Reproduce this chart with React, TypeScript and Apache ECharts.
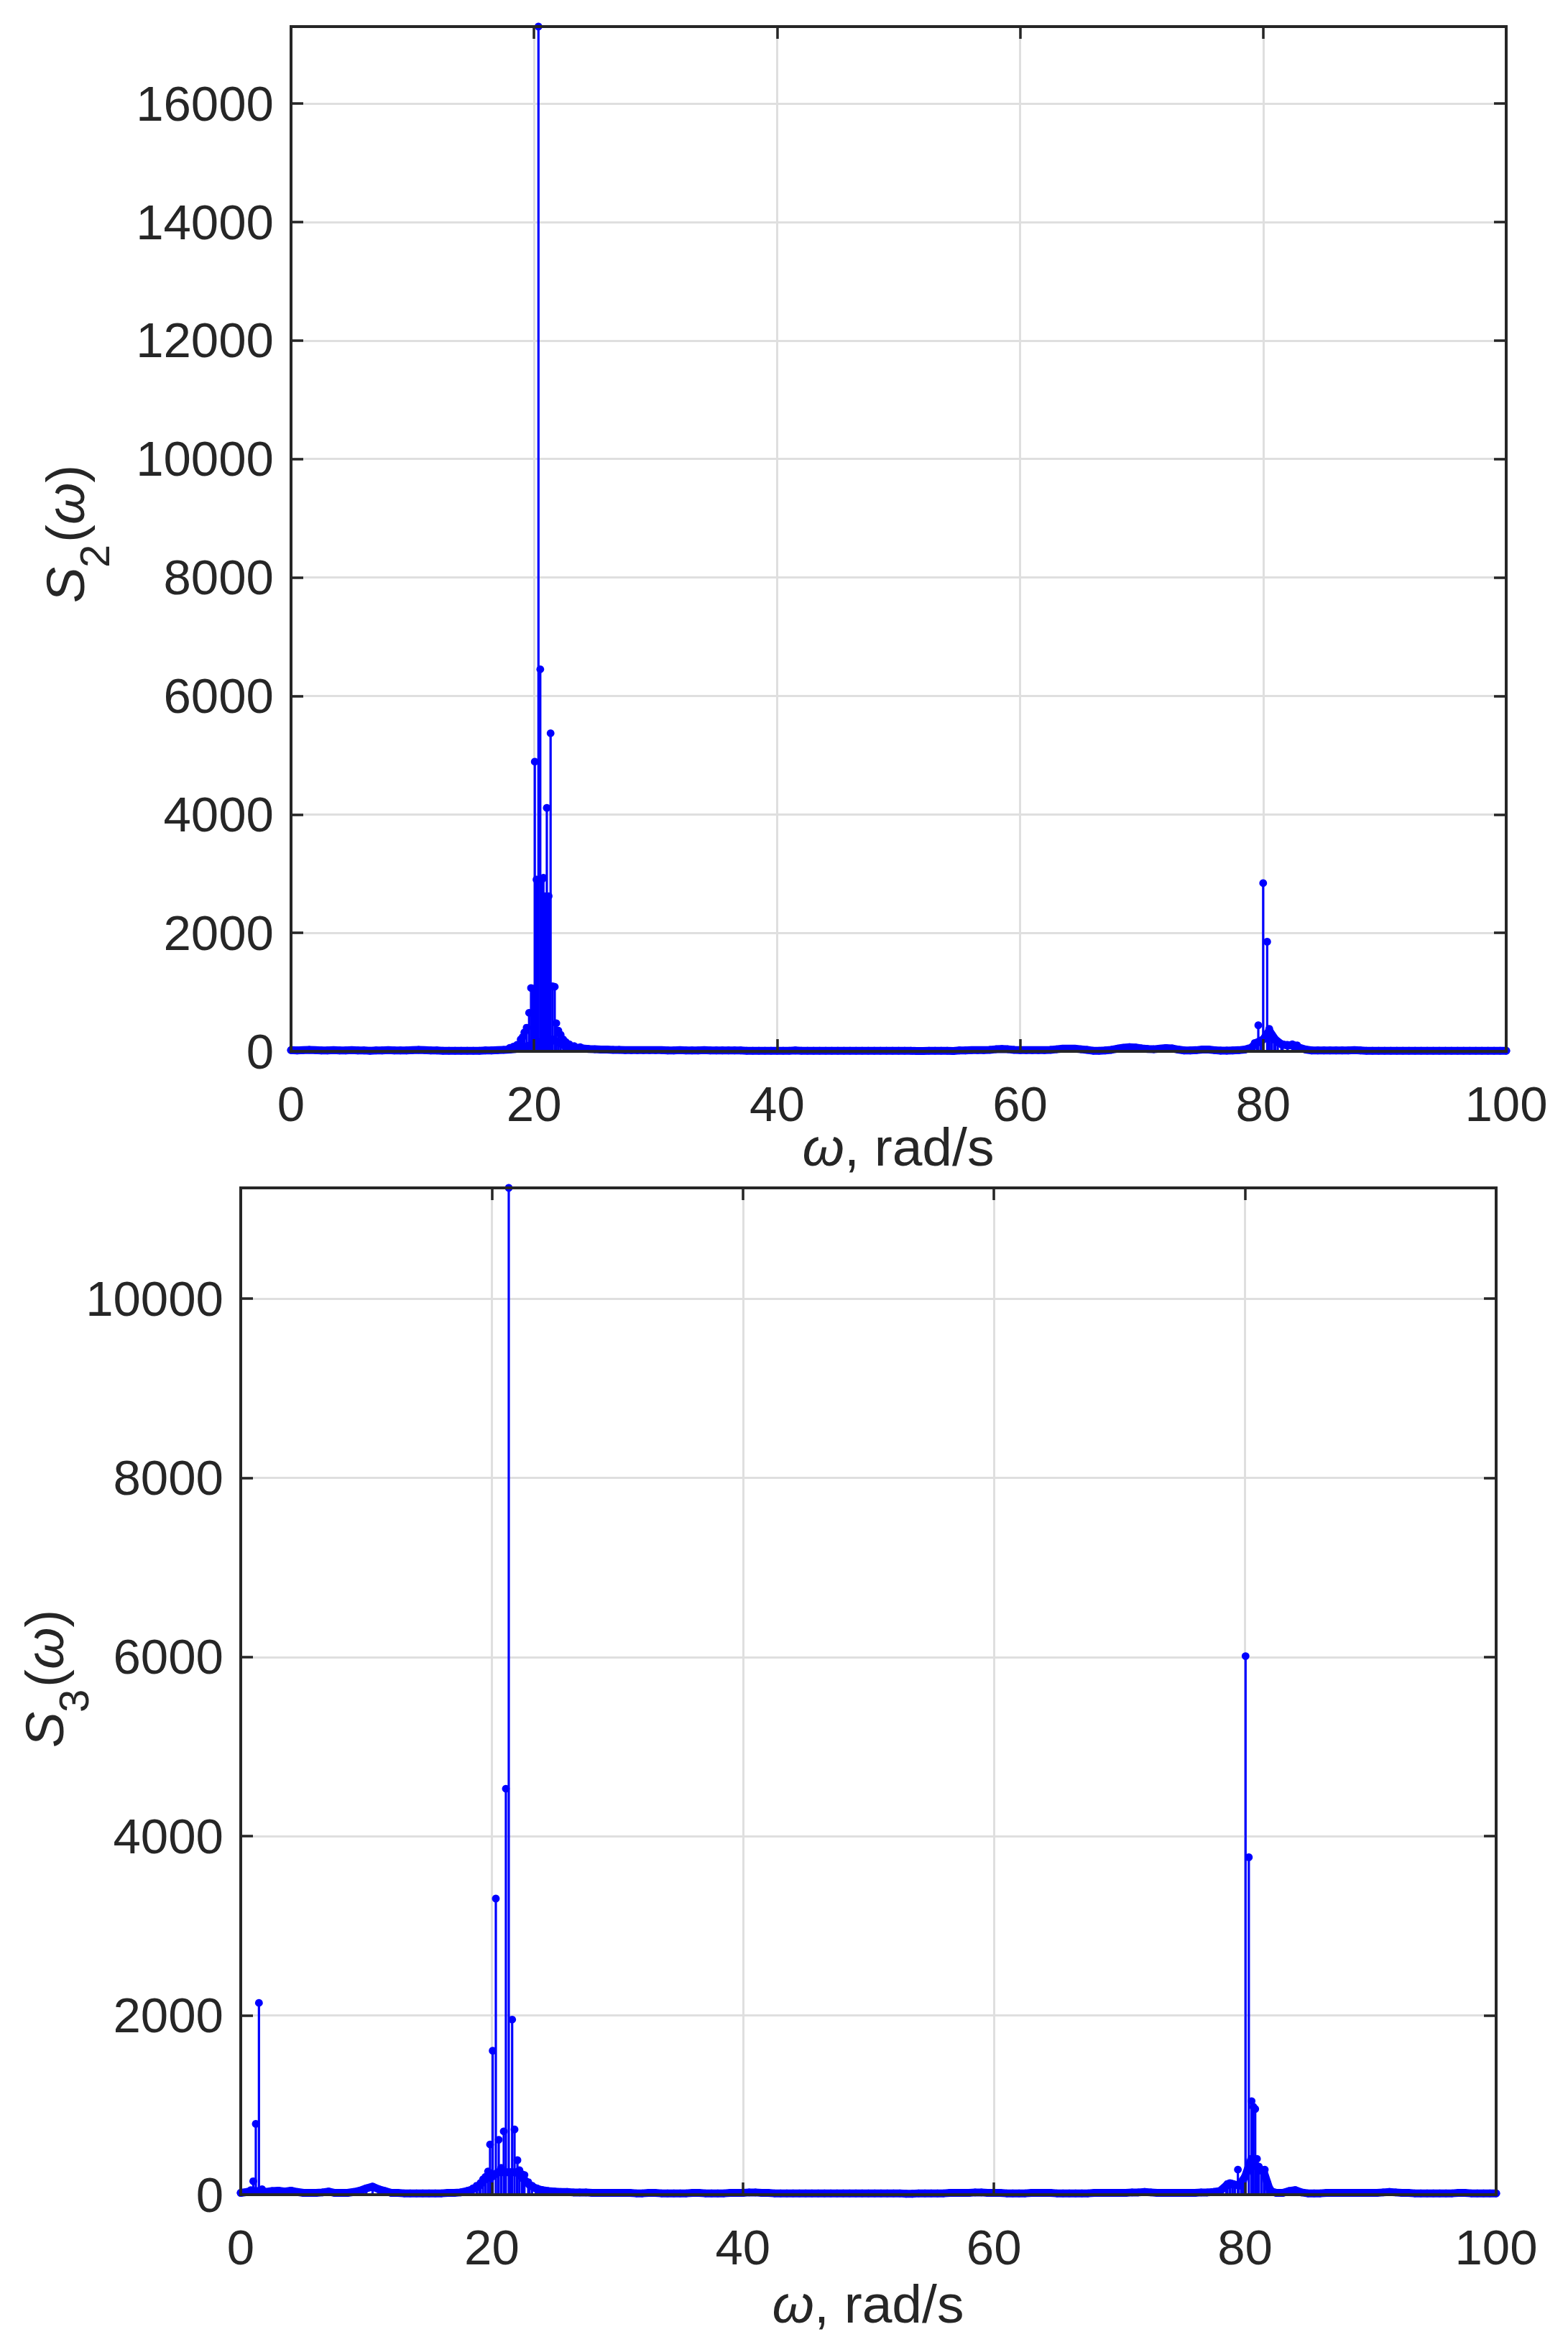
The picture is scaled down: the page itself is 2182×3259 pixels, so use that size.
import React, { useEffect, useRef } from "react";
import * as echarts from "echarts";

const W = 2182;
const H = 3259;
const FONT = '"Liberation Sans", Arial, Helvetica, sans-serif';
const INK = "#262626";
const BLUE = "#0000ff";
const GRIDC = "#dfdfdf";

// x axis (omega, rad/s)
const xMin = 0;
const xMax = 100;
const xInterval = 20;
const yInterval = 2000;
const floorStep = 0.5; // sample spacing of the low-level floor values below

// ---- S2(omega): low-level floor, omega = 0, 0.5, ..., 100
const s2Floor = [
  20, 15, 20, 25, 20, 15, 15, 20, 15, 15, 20, 15, 15, 10, 15, 15, 20, 15, 15, 15,
  20, 25, 20, 15, 15, 10, 10, 10, 10, 10, 10, 10, 15, 15, 20, 25, 30, 40, 60, 90,
  120, 150, 180, 200, 150, 100, 80, 60, 50, 40, 35, 30, 30, 25, 25, 20, 20, 20, 20, 20,
  20, 20, 15, 15, 20, 15, 15, 15, 20, 15, 15, 15, 15, 15, 15, 10, 10, 10, 10, 10,
  10, 10, 10, 15, 10, 10, 10, 10, 10, 10, 10, 10, 10, 10, 10, 10, 10, 10, 10, 10,
  10, 10, 10, 5, 5, 10, 10, 10, 10, 5, 15, 15, 20, 20, 20, 25, 35, 40, 35, 25,
  20, 20, 20, 20, 20, 25, 35, 45, 45, 45, 35, 25, 10, 10, 15, 25, 45, 60, 70, 65,
  50, 40, 35, 45, 55, 50, 30, 15, 15, 20, 30, 30, 20, 12, 12, 15, 20, 30, 60, 150,
  200, 350, 200, 120, 100, 105, 60, 30, 15, 15, 15, 15, 15, 15, 15, 20, 15, 10, 10, 10,
  10, 10, 10, 10, 10, 10, 10, 10, 10, 10, 10, 10, 10, 10, 10, 10, 10, 10, 10, 10,
  10,
];
// ---- S2(omega): resonance clusters
const s2PeakOmega = [
  18.0, 18.3, 18.6, 18.9, 19.06, 19.2, 19.39, 19.59, 19.75, 19.9, 20.06, 20.2, 20.36, 20.51,
  20.64, 20.77, 20.9, 21.05, 21.2, 21.36, 21.52, 21.7, 21.83, 22.0, 22.19, 22.4, 22.6, 22.9,
  23.3, 23.8,
  79.3, 79.6, 79.8, 80.0, 80.33, 80.5, 80.7, 80.9, 81.2, 81.6, 82.0, 82.4, 82.8,
];
const s2PeakValue = [
  60, 80, 110, 200, 240, 320, 400, 650, 1070, 1060, 4890, 2900, 17300, 6450,
  2900, 2930, 2620, 4110, 2620, 5370, 1100, 1090, 475, 350, 280, 200, 160, 120,
  90, 70,
  140, 440, 150, 2840, 1850, 380, 280, 200, 150, 120, 110, 120, 100,
];

// ---- S3(omega): low-level floor, omega = 0, 0.5, ..., 100
const s3Floor = [
  20, 30, 40, 40, 30, 40, 45, 35, 45, 30, 20, 20, 20, 25, 35, 20, 20, 20, 30, 45,
  70, 90, 60, 40, 20, 20, 15, 15, 15, 15, 15, 15, 15, 20, 20, 25, 40, 60, 100, 180,
  200, 250, 250, 250, 250, 180, 110, 70, 50, 40, 35, 30, 30, 25, 25, 25, 20, 20, 20, 20,
  20, 20, 20, 15, 15, 20, 20, 15, 15, 15, 15, 15, 20, 20, 15, 15, 15, 15, 20, 20,
  20, 25, 25, 20, 20, 15, 15, 15, 15, 15, 15, 15, 15, 15, 15, 15, 15, 15, 15, 15,
  15, 15, 15, 15, 15, 15, 10, 10, 15, 15, 15, 15, 15, 20, 20, 20, 20, 25, 25, 20,
  20, 20, 15, 15, 15, 15, 20, 20, 20, 20, 15, 15, 15, 15, 15, 15, 20, 20, 20, 20,
  20, 20, 25, 25, 30, 25, 20, 20, 20, 20, 20, 20, 20, 25, 25, 30, 40, 100, 120, 100,
  200, 400, 300, 250, 40, 20, 20, 40, 50, 25, 15, 15, 15, 20, 20, 20, 20, 20, 20, 20,
  20, 20, 25, 30, 25, 20, 20, 15, 15, 15, 15, 15, 15, 15, 20, 20, 15, 15, 15, 15,
  15,
];
// ---- S3(omega): resonance clusters
const s3PeakOmega = [
  0.8, 1.0, 1.2, 1.45, 1.7,
  18.5, 18.8, 19.1, 19.3, 19.5, 19.7, 19.86, 20.07, 20.32, 20.55, 20.75, 20.95, 21.12, 21.35,
  21.62, 21.81, 22.04, 22.2, 22.4, 22.6, 22.9, 23.2, 23.6, 24.0,
  78.6, 78.8, 79.0, 79.2, 79.43, 79.7, 79.85, 80.04, 80.3, 80.52, 80.66, 80.81, 80.95, 81.1,
  81.3, 81.57, 81.75, 82.0,
];
const s3PeakValue = [
  50, 150, 790, 2140, 60,
  70, 100, 130, 170, 200, 260, 560, 1606, 3304, 613, 300, 707, 4530, 11235,
  1954, 728, 385, 273, 230, 220, 140, 100, 70, 50,
  120, 130, 120, 110, 280, 120, 150, 6010, 3765, 1044, 980, 956, 400, 313,
  280, 280, 140, 60,
];

function floorPoints(floor: number[]) {
  return floor.map((v, i) => [i * floorStep, v]);
}
function buildPoints(floor: number[], omega: number[], values: number[]) {
  const pts: number[][] = floorPoints(floor);
  omega.forEach((w, i) => pts.push([w, values[i]]));
  return pts;
}

const lineStyleBox = { color: INK, width: 4, cap: "square" };
const tickStyle = { show: true, inside: true, length: 17, lineStyle: { color: INK, width: 3.5 } };

function xAxes(gi: number) {
  const common = { gridIndex: gi, type: "value", min: xMin, max: xMax, interval: xInterval };
  return [
    {
      ...common,
      position: "bottom",
      z: 10,
      axisLine: { show: true, onZero: false, lineStyle: lineStyleBox },
      axisTick: tickStyle,
      axisLabel: {
        show: true,
        margin: 39,
        fontSize: 69,
        color: INK,
        fontFamily: FONT,
        formatter: (v: number) => String(v),
      },
      splitLine: { show: false },
    },
    {
      ...common,
      position: "top",
      z: 10,
      axisLine: { show: true, onZero: false, lineStyle: lineStyleBox },
      axisTick: tickStyle,
      axisLabel: { show: false },
      splitLine: { show: false },
    },
    {
      ...common,
      position: "bottom",
      z: 0,
      axisLine: { show: false, onZero: false },
      axisTick: { show: false },
      axisLabel: { show: false },
      splitLine: { show: true, lineStyle: { color: GRIDC, width: 3 } },
    },
  ];
}

function yAxes(gi: number, max: number) {
  const common = { gridIndex: gi, type: "value", min: 0, max, interval: yInterval };
  return [
    {
      ...common,
      position: "left",
      z: 10,
      axisLine: { show: true, onZero: false, lineStyle: lineStyleBox },
      axisTick: tickStyle,
      axisLabel: {
        show: true,
        margin: 24,
        fontSize: 69,
        color: INK,
        fontFamily: FONT,
        formatter: (v: number) => (Math.abs(v % yInterval) < 1e-6 ? String(v) : ""),
      },
      splitLine: { show: false },
    },
    {
      ...common,
      position: "right",
      z: 10,
      axisLine: { show: true, onZero: false, lineStyle: lineStyleBox },
      axisTick: tickStyle,
      axisLabel: { show: false },
      splitLine: { show: false },
    },
    {
      ...common,
      position: "left",
      z: 0,
      axisLine: { show: false, onZero: false },
      axisTick: { show: false },
      axisLabel: { show: false },
      splitLine: { show: true, lineStyle: { color: GRIDC, width: 3 } },
    },
  ];
}

function stemSeries(gi: number, data: number[][]) {
  return {
    type: "custom",
    coordinateSystem: "cartesian2d",
    xAxisIndex: gi * 3,
    yAxisIndex: gi * 3,
    data,
    encode: { x: 0, y: 1 },
    z: 2,
    clip: false,
    silent: true,
    renderItem: (_params: any, api: any) => {
      const x = api.value(0);
      const y = api.value(1);
      const p0 = api.coord([x, 0]);
      const p1 = api.coord([x, y]);
      return {
        type: "group",
        children: [
          {
            type: "line",
            shape: { x1: p0[0], y1: p0[1], x2: p1[0], y2: p1[1] },
            style: { stroke: BLUE, lineWidth: 3.2 },
          },
          {
            type: "circle",
            shape: { cx: p1[0], cy: p1[1], r: 5.4 },
            style: { fill: BLUE },
          },
        ],
      };
    },
  };
}

// the dense run of floor markers merges into one solid ribbon in the reference
function ribbonSeries(gi: number, floor: number[]) {
  return {
    type: "line",
    xAxisIndex: gi * 3,
    yAxisIndex: gi * 3,
    data: floorPoints(floor),
    symbol: "none",
    z: 1,
    silent: true,
    lineStyle: { color: BLUE, width: 11, cap: "round", join: "round" },
  };
}

const LABEL_FS = 75;

function yLabel(x: number, y: number, sub: string) {
  return {
    type: "group",
    x,
    y,
    rotation: Math.PI / 2,
    silent: true,
    children: [
      {
        type: "text",
        x: -1,
        y: -26,
        style: {
          text: "S",
          fontSize: LABEL_FS,
          fontStyle: "italic",
          fontFamily: FONT,
          fill: INK,
          align: "left",
          verticalAlign: "middle",
        },
      },
      {
        type: "text",
        x: 48,
        y: 14,
        style: {
          text: sub,
          fontSize: 58,
          fontFamily: FONT,
          fill: INK,
          align: "left",
          verticalAlign: "middle",
        },
      },
      {
        type: "text",
        x: 83,
        y: -26,
        style: {
          text: "{n|(}{i|ω}{n|)}",
          fontSize: LABEL_FS,
          fontFamily: FONT,
          fill: INK,
          align: "left",
          verticalAlign: "middle",
          rich: {
            n: { fontSize: LABEL_FS, fontFamily: FONT, fill: INK, color: INK },
            i: { fontSize: LABEL_FS, fontFamily: FONT, fontStyle: "italic", fill: INK, color: INK },
          },
        },
      },
    ],
  };
}

function xLabel(x: number, y: number) {
  return {
    type: "text",
    x,
    y,
    silent: true,
    style: {
      text: "{i|ω}{n|, rad/s}",
      fontSize: LABEL_FS,
      fontFamily: FONT,
      fill: INK,
      align: "center",
      verticalAlign: "middle",
      rich: {
        n: { fontSize: LABEL_FS, fontFamily: FONT, fill: INK, color: INK },
        i: { fontSize: LABEL_FS, fontFamily: FONT, fontStyle: "italic", fill: INK, color: INK },
      },
    },
  };
}

export default function App() {
  const ref = useRef<HTMLDivElement>(null);

  useEffect(() => {
    document.body.style.margin = "0";
    document.body.style.overflow = "hidden";
    if (!ref.current) return;
    const chart = echarts.init(ref.current, null, { renderer: "svg", width: W, height: H });

    const s2Max = Math.max(...s2PeakValue);
    const s3Max = Math.max(...s3PeakValue);

    const option: any = {
      animation: false,
      backgroundColor: "#ffffff",
      textStyle: { fontFamily: FONT },
      grid: [
        { left: 405, top: 37, width: 1691, height: 1426, outerBoundsMode: "none", containLabel: false },
        { left: 335, top: 1653, width: 1747, height: 1401, outerBoundsMode: "none", containLabel: false },
      ],
      xAxis: [...xAxes(0), ...xAxes(1)],
      yAxis: [...yAxes(0, s2Max), ...yAxes(1, s3Max)],
      series: [
        ribbonSeries(0, s2Floor),
        ribbonSeries(1, s3Floor),
        stemSeries(0, buildPoints(s2Floor, s2PeakOmega, s2PeakValue)),
        stemSeries(1, buildPoints(s3Floor, s3PeakOmega, s3PeakValue)),
      ],
      graphic: [
        yLabel(117, 838, "2"),
        yLabel(88, 2431, "3"),
        xLabel(1250, 1596),
        xLabel(1208, 3206),
      ],
    };

    chart.setOption(option);
    return () => chart.dispose();
  }, []);

  return <div ref={ref} style={{ width: W, height: H, background: "#fff" }} />;
}
